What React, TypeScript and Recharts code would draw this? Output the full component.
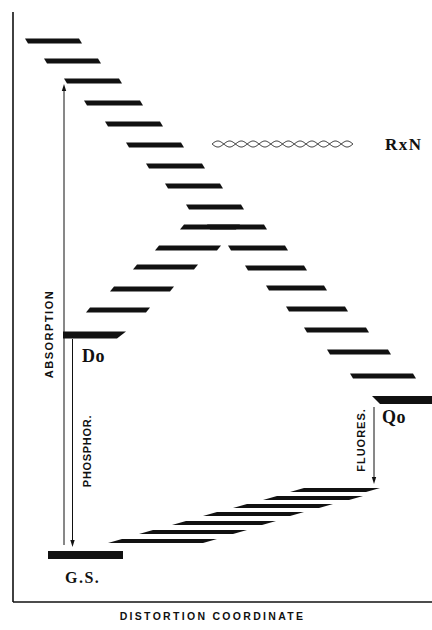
import React from 'react';
import { ComposedChart, XAxis, YAxis, ReferenceLine, ReferenceDot, Label, Scatter } from 'recharts';

// Q manifold: vibrational levels falling towards Q0 as distortion grows
const Q_ENERGY = [561, 541, 521, 499, 478, 457, 436, 416, 395, 375, 354, 334, 314, 293, 272, 250, 226];
const Q_START = [12, 31, 51, 71, 92, 113, 133, 152, 173, 194, 215, 232, 253, 273, 291, 314, 337];
const Q_END = [69, 88, 109, 130, 150, 171, 192, 210, 231, 254, 275, 294, 314, 335, 356, 378, 403];

// D manifold: levels rising from D0 to the crossing
const D_ENERGY = [292, 313, 335, 354, 375];
const D_START = [73, 97, 120, 142, 167];
const D_END = [137, 161, 185, 208, 227];

// ground state manifold
const G_ENERGY = [61, 70, 79, 88, 96, 104, 112];
const G_START = [95, 126, 159, 190, 220, 250, 277];
const G_END = [204, 234, 263, 291, 320, 350, 367];

// zero-point levels
const ORIGIN_NAMES = ['D0', 'Q0', 'GS'];
const ORIGIN_ENERGY = [267, 202, 47];
const ORIGIN_START = [50, 359, 35];
const ORIGIN_END = [113, 419, 110];

// radiative transitions (x, from energy, to energy)
const TRANSITIONS = [
  { name: 'absorption', x: 51, from: 57, to: 518 },
  { name: 'phosphor', x: 59.5, from: 263, to: 55 },
  { name: 'fluores', x: 361, from: 195, to: 118 },
];

const RXN = { from: 199, to: 340, energy: 458 };

const LABELS = [
  { id: 'absorption', text: 'ABSORPTION', x: 36, y: 268 },
  { id: 'phosphor', text: 'PHOSPHOR.', x: 74, y: 151 },
  { id: 'fluores', text: 'FLUORES.', x: 348, y: 162 },
  { id: 'd0', text: 'Do', x: 69, y: 240 },
  { id: 'q0', text: 'Qo', x: 369, y: 179 },
  { id: 'gs', text: 'G.S.', x: 52, y: 19 },
  { id: 'rxn', text: 'RxN', x: 372, y: 452 },
];

const INK = '#111';

const poly = (pts: number[][]) => pts.map((p) => p.join(',')).join(' ');

const levelShape = (kind: string) => (props: any) => {
  const { x1, x2, y1 } = props;
  let pts: number[][];
  if (kind === 'fall') {
    const h = 4.8, s = 3;
    pts = [[x1, y1 - h / 2], [x2 - s, y1 - h / 2], [x2, y1 + h / 2], [x1 + s, y1 + h / 2]];
  } else if (kind === 'rise') {
    const h = 4.8, s = 4;
    pts = [[x1 + s, y1 - h / 2], [x2, y1 - h / 2], [x2 - s, y1 + h / 2], [x1, y1 + h / 2]];
  } else if (kind === 'ground') {
    const h = 3.8, s = 14;
    pts = [[x1 + s, y1 - h / 2], [x2, y1 - h / 2], [x2 - s, y1 + h / 2], [x1, y1 + h / 2]];
  } else if (kind === 'D0') {
    const h = 7;
    pts = [[x1, y1 - h / 2], [x2, y1 - h / 2], [x2 - 9, y1 + h / 2], [x1, y1 + h / 2]];
  } else if (kind === 'Q0') {
    const h = 8;
    pts = [[x1, y1 - h / 2], [x2 + 6, y1 - h / 2], [x2 + 6, y1 + h / 2], [x1 + 8, y1 + h / 2]];
  } else {
    const h = 8;
    pts = [[x1, y1 - h / 2], [x2, y1 - h / 2], [x2, y1 + h / 2], [x1, y1 + h / 2]];
  }
  return <polygon points={poly(pts)} fill={INK} />;
};

const arrowShape = (props: any) => {
  const { x1, y1, x2, y2 } = props;
  const dir = y2 > y1 ? 1 : -1;
  const len = 7, half = 2.2;
  return (
    <g>
      <line x1={x1} y1={y1} x2={x2} y2={y2 - dir * len * 0.6} stroke={INK} strokeWidth={1} />
      <polygon points={poly([[x2, y2], [x2 - half, y2 - dir * len], [x2 + half, y2 - dir * len]])} fill={INK} />
    </g>
  );
};

// twisted double strand for the reaction channel
const wavyShape = (props: any) => {
  const { x1, x2, y1 } = props;
  const turns = 6;
  const period = (x2 - x1) / turns;
  const amp = 3;
  let a = '';
  let b = '';
  for (let x = x1; x <= x2 + 0.01; x += 0.5) {
    const t = Math.sin(((x - x1) / period) * Math.PI * 2) * amp;
    a += `${a ? 'L' : 'M'}${x.toFixed(1)},${(y1 - t).toFixed(2)}`;
    b += `${b ? 'L' : 'M'}${x.toFixed(1)},${(y1 + t).toFixed(2)}`;
  }
  return (
    <g fill="none" stroke={INK} strokeWidth={0.9}>
      <path d={a} />
      <path d={b} />
    </g>
  );
};

const sans = '"Liberation Sans", Arial, sans-serif';
const serif = '"Liberation Serif", "Times New Roman", serif';

const TEXT_STYLE: Record<string, any> = {
  absorption: { font: sans, size: 11, weight: 700, spacing: 1.5, rotate: true },
  phosphor: { font: sans, size: 11, weight: 700, spacing: 0.7, rotate: true },
  fluores: { font: sans, size: 11, weight: 700, spacing: 1, rotate: true },
  d0: { font: serif, size: 18, weight: 700, spacing: 0.5 },
  q0: { font: serif, size: 18, weight: 700, spacing: 0.5 },
  gs: { font: serif, size: 16, weight: 700, spacing: 1.5 },
  rxn: { font: serif, size: 17, weight: 700, spacing: 1.5 },
};

const textShape = (id: string, text: string) => (props: any) => {
  const { cx, cy } = props;
  const st = TEXT_STYLE[id];
  if (st.rotate) {
    return (
      <text
        x={cx}
        y={cy}
        transform={`rotate(-90 ${cx} ${cy})`}
        textAnchor="middle"
        dominantBaseline="central"
        fontFamily={st.font}
        fontSize={st.size}
        fontWeight={st.weight}
        letterSpacing={st.spacing}
        fill={INK}
      >
        {text}
      </text>
    );
  }
  return (
    <text x={cx} y={cy} fontFamily={st.font} fontSize={st.size} fontWeight={st.weight} letterSpacing={st.spacing} fill={INK}>
      {text}
    </text>
  );
};

// level centres, given to a hidden series so the chart has data to scale
const levelCentres = [
  ...Q_ENERGY.map((e, i) => ({ x: (Q_START[i] + Q_END[i]) / 2, y: e })),
  ...D_ENERGY.map((e, i) => ({ x: (D_START[i] + D_END[i]) / 2, y: e })),
  ...G_ENERGY.map((e, i) => ({ x: (G_START[i] + G_END[i]) / 2, y: e })),
  ...ORIGIN_ENERGY.map((e, i) => ({ x: (ORIGIN_START[i] + ORIGIN_END[i]) / 2, y: e })),
];

export default function App() {
  const ladder = (energy: number[], start: number[], end: number[], kind: string, key: string) =>
    energy.map((e, i) => (
      <ReferenceLine
        key={`${key}-${i}`}
        segment={[{ x: start[i], y: e }, { x: end[i], y: e }]}
        shape={levelShape(kind)}
        ifOverflow="visible"
      />
    ));

  return (
    <div style={{ position: 'absolute', left: 0, top: 0, width: 432, height: 630, background: '#fff' }}>
      <ComposedChart width={432} height={630} margin={{ top: 12, right: 0, left: 0, bottom: 0 }}>
        <XAxis
          type="number"
          dataKey="x"
          domain={[0, 419]}
          allowDataOverflow
          tick={false}
          tickLine={false}
          axisLine={{ stroke: INK, strokeWidth: 1.6 }}
          height={28}
        >
          <Label
            value="DISTORTION COORDINATE"
            position="insideBottom"
            offset={10}
            dx={-10}
            style={{ fontFamily: sans, fontSize: 10.5, fontWeight: 700, letterSpacing: 2.3, fill: INK }}
          />
        </XAxis>
        <YAxis
          type="number"
          dataKey="y"
          domain={[0, 590]}
          allowDataOverflow
          tick={false}
          tickLine={false}
          axisLine={{ stroke: INK, strokeWidth: 1.6 }}
          width={13}
        />
        <Scatter data={levelCentres} dataKey="y" fill="none" shape={() => <g />} isAnimationActive={false} />
        {ladder(Q_ENERGY, Q_START, Q_END, 'fall', 'q')}
        {ladder(D_ENERGY, D_START, D_END, 'rise', 'd')}
        {ladder(G_ENERGY, G_START, G_END, 'ground', 'g')}
        {ORIGIN_NAMES.map((n, i) => (
          <ReferenceLine
            key={n}
            segment={[{ x: ORIGIN_START[i], y: ORIGIN_ENERGY[i] }, { x: ORIGIN_END[i], y: ORIGIN_ENERGY[i] }]}
            shape={levelShape(n)}
            ifOverflow="visible"
          />
        ))}
        {TRANSITIONS.map((t) => (
          <ReferenceLine
            key={t.name}
            segment={[{ x: t.x, y: t.from }, { x: t.x, y: t.to }]}
            shape={arrowShape}
            ifOverflow="visible"
          />
        ))}
        <ReferenceLine
          segment={[{ x: RXN.from, y: RXN.energy }, { x: RXN.to, y: RXN.energy }]}
          shape={wavyShape}
          ifOverflow="visible"
        />
        {LABELS.map((l) => (
          <ReferenceDot key={l.id} x={l.x} y={l.y} r={0} shape={textShape(l.id, l.text)} ifOverflow="visible" />
        ))}
      </ComposedChart>
    </div>
  );
}
